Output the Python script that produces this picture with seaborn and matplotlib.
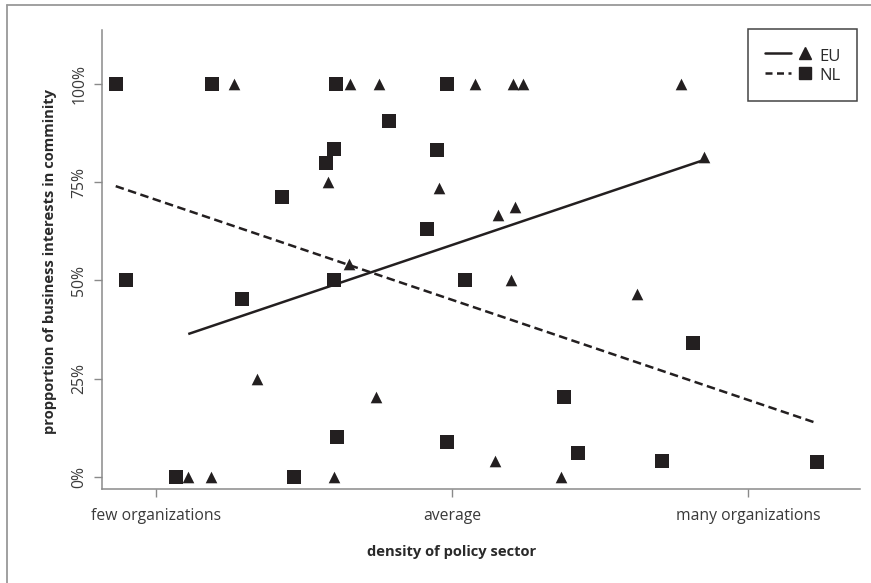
import numpy as np
import pandas as pd
import matplotlib
matplotlib.use('Agg')
import matplotlib.pyplot as plt
import seaborn as sns
from matplotlib.lines import Line2D
from matplotlib.legend_handler import HandlerTuple

# density of policy sector (standardised: -1 few, 0 average, 1 many) and share of business interests (%)
eu_x = [-0.891, -0.815, -0.737, -0.660, -0.420, -0.400, -0.348, -0.343, -0.257, -0.248, -0.045,
        0.078, 0.145, 0.154, 0.199, 0.207, 0.213, 0.241, 0.368, 0.624, 0.775, 0.852]
eu_y = [0, 0, 100, 25, 75, 0, 54.2, 100, 20.2, 100, 73.5,
        100, 4.1, 66.7, 50, 100, 68.6, 100, 0, 46.6, 100, 81.5]

nl_x = [-1.136, -1.102, -0.932, -0.810, -0.710, -0.574, -0.535, -0.424, -0.400, -0.400, -0.393, -0.387,
        -0.214, -0.086, -0.049, -0.018, -0.018, 0.043, 0.379, 0.425, 0.708, 0.813, 1.232]
nl_y = [100, 50, 0, 100, 45.2, 71.3, 0, 79.9, 83.4, 50, 100, 10.0,
        90.6, 63.0, 83.3, 100, 8.9, 50, 20.2, 6.0, 4.0, 34.0, 3.7]

x_ticks = [-1, 0, 1]
x_ticklabels = ['few organizations', 'average', 'many organizations']
y_ticks = [0, 25, 50, 75, 100]
y_ticklabels = ['0%', '25%', '50%', '75%', '100%']

ink = '#231f20'
grey = '#8a8a8a'

sns.set_style('ticks')
plt.rcParams['font.family'] = ['Open Sans', 'DejaVu Sans']

fig = plt.figure(figsize=(8.71, 5.83), dpi=100)
ax = fig.add_axes([0.1171, 0.1612, 0.8703, 0.7873])

# EU: triangles + solid fit, NL: squares + dashed fit
sns.regplot(x=np.array(eu_x), y=np.array(eu_y), ax=ax, ci=None, marker='^', color=ink,
            scatter_kws={'s': 70, 'alpha': 1, 'linewidths': 0},
            line_kws={'linewidth': 1.8, 'solid_capstyle': 'butt'})
sns.regplot(x=np.array(nl_x), y=np.array(nl_y), ax=ax, ci=None, marker='s', color=ink,
            scatter_kws={'s': 88, 'alpha': 1, 'linewidths': 0},
            line_kws={'linewidth': 1.8, 'linestyle': '--', 'dashes': (3.4, 1.8)})

ax.set_xlim(-1.1824, 1.3784)
ax.set_ylim(-3.13, 113.8)
ax.set_xticks(x_ticks)
ax.set_xticklabels(x_ticklabels)
ax.set_yticks(y_ticks)
ax.set_yticklabels(y_ticklabels, rotation=90, va='center')

ax.tick_params(axis='both', colors=grey, labelcolor='#3a3a3a', labelsize=11.3, length=6, width=1)
ax.tick_params(axis='x', pad=8)
ax.tick_params(axis='y', pad=4.5)
for side in ['top', 'right']:
    ax.spines[side].set_visible(False)
for side in ['left', 'bottom']:
    ax.spines[side].set_color(grey)
    ax.spines[side].set_linewidth(1.1)

ax.set_xlabel('density of policy sector', fontsize=10.6, fontweight='bold', color='#2a2a2a')
ax.xaxis.set_label_coords(0.461, -0.122)
ax.set_ylabel('propportion of business interests in comminity', fontsize=10.6, fontweight='bold',
              color='#2a2a2a')
ax.yaxis.set_label_coords(-0.059, 0.495)

# legend: line then marker for each group
eu_line = Line2D([], [], color=ink, linewidth=1.8)
eu_mark = Line2D([], [], color=ink, marker='^', linestyle='none', markersize=8.5)
nl_line = Line2D([], [], color=ink, linewidth=1.8, linestyle='--', dashes=(2.8, 1.8))
nl_mark = Line2D([], [], color=ink, marker='s', linestyle='none', markersize=9.0)
leg = ax.legend([(eu_line, eu_mark), (nl_line, nl_mark)], ['EU', 'NL'],
                handler_map={tuple: HandlerTuple(ndivide=None, pad=0.1)},
                loc='upper right', bbox_to_anchor=(0.996, 1.002), borderaxespad=0,
                fontsize=12, handlelength=3.2, handleheight=1.35, handletextpad=0.05,
                labelspacing=0.05, borderpad=1.0, fancybox=False, framealpha=1,
                edgecolor='#444444')
leg.get_frame().set_linewidth(1.1)
for t in leg.get_texts():
    t.set_color('#2a2a2a')

# outer frame (only top and left edges are visible in the crop)
fig.add_artist(Line2D([6.5 / 871, 6.5 / 871], [0, 1 - 4.5 / 583], color='#999999', linewidth=1.3,
                      transform=fig.transFigure))
fig.add_artist(Line2D([6.5 / 871, 1], [1 - 4.5 / 583, 1 - 4.5 / 583], color='#999999', linewidth=1.3,
                      transform=fig.transFigure))

fig.savefig('out.png', dpi=100)
plt.close(fig)
